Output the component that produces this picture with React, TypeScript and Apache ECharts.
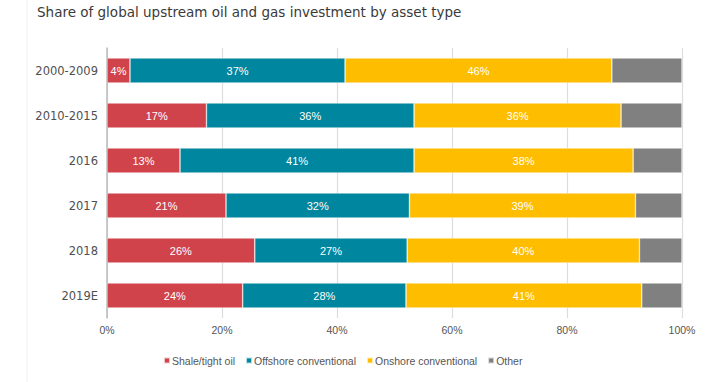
import React, { useEffect, useRef } from "react";
import * as echarts from "echarts";

const categories = ["2000-2009", "2010-2015", "2016", "2017", "2018", "2019E"];
const shaleTight = [4, 17.3, 12.7, 20.7, 25.7, 23.6];
const offshore = [37.4, 36.1, 40.7, 31.9, 26.5, 28.4];
const onshore = [46.4, 36, 38.1, 39.3, 40.4, 41];
const other = [12.2, 10.6, 8.5, 8.1, 7.4, 7.0];
const xTicks = [0, 20, 40, 60, 80, 100];

const FONT = "Liberation Sans, Arial, sans-serif";
const WIDE = "DejaVu Sans, sans-serif";

export default function App() {
  const ref = useRef<HTMLDivElement>(null);
  useEffect(() => {
    if (!ref.current) return;
    const chart = echarts.init(ref.current, null, { renderer: "svg" });
    const mk = (name: string, data: number[], color: string, showLabel: boolean) => ({
      name,
      type: "bar",
      stack: "total",
      data,
      barWidth: 25,
      itemStyle: { color, borderColor: "rgba(255,255,255,0.7)", borderWidth: 0.6 },
      label: {
        show: showLabel,
        position: "inside",
        color: "#ffffff",
        fontSize: 11,
        fontFamily: FONT,
        formatter: (p: any) => Math.round(p.value) + "%",
      },
    });
    chart.setOption({
      animation: false,
      textStyle: { fontFamily: FONT },
      title: {
        text: "Share of global upstream oil and gas investment by asset type",
        left: 32,
        top: 0,
        textStyle: { fontSize: 13.5, fontWeight: "normal", color: "#3a3a3a", fontFamily: WIDE },
      },
      grid: { left: 107, right: 39, top: 48, bottom: 64, containLabel: false },
      xAxis: {
        type: "value",
        min: xTicks[0],
        max: xTicks[xTicks.length - 1],
        interval: 20,
        axisLine: { show: false },
        axisTick: { show: false },
        splitLine: { show: true, lineStyle: { color: "#dddddd", width: 1.2 } },
        axisLabel: {
          color: "#555555",
          fontSize: 10.5,
          margin: 6,
          fontFamily: FONT,
          formatter: (v: number) => v + "%",
        },
      },
      yAxis: {
        type: "category",
        data: categories,
        inverse: true,
        axisLine: { show: true, lineStyle: { color: "#bbbbbb", width: 1.5 } },
        axisTick: { show: false },
        axisLabel: { color: "#505050", fontSize: 11.5, margin: 9, fontFamily: WIDE },
      },
      legend: {
        left: 158,
        top: 350,
        itemWidth: 6,
        itemHeight: 6,
        itemGap: 10,
        icon: "rect",
        textStyle: { color: "#555555", fontSize: 10.5, fontFamily: FONT, padding: [0, 0, 0, -3] },
        data: ["Shale/tight oil", "Offshore conventional", "Onshore conventional", "Other"],
      },
      graphic: [
        {
          type: "line",
          shape: { x1: 27, y1: 0, x2: 27, y2: 382 },
          style: { stroke: "#f0f0f0", lineWidth: 1 },
        },
      ],
      series: [
        mk("Shale/tight oil", shaleTight, "#d1434a", true),
        mk("Offshore conventional", offshore, "#00869e", true),
        mk("Onshore conventional", onshore, "#ffbd00", true),
        mk("Other", other, "#808080", false),
      ],
    });
    return () => chart.dispose();
  }, []);
  return <div ref={ref} style={{ width: 721, height: 382, position: "absolute", left: 0, top: 0 }} />;
}
